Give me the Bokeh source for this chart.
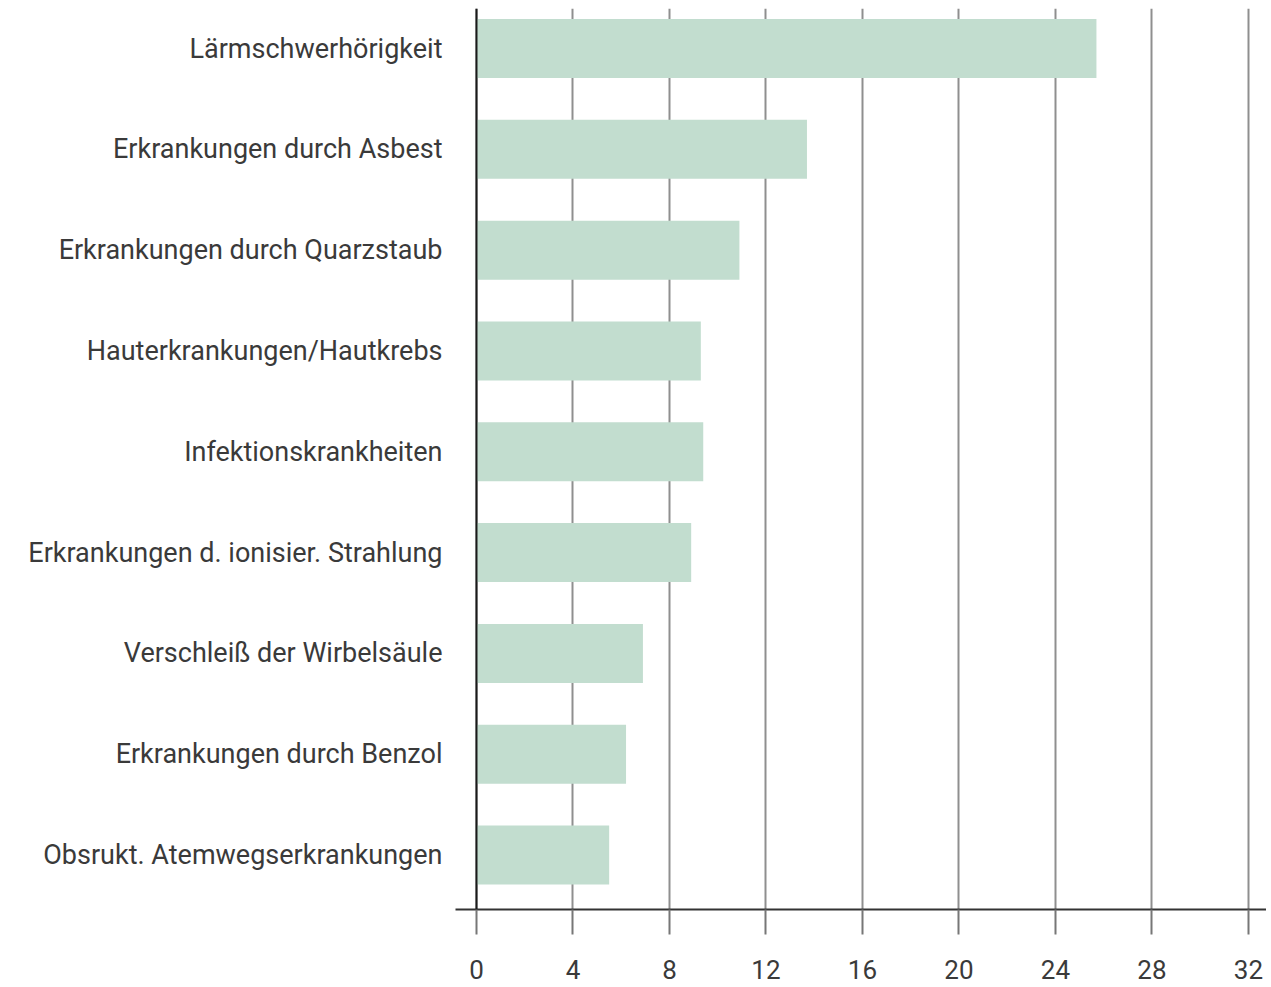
from bokeh.plotting import figure
from bokeh.models import Range1d, FixedTicker, Span, ColumnDataSource
from bokeh.embed import file_html
from bokeh.resources import INLINE

categories = [
    "Lärmschwerhörigkeit",
    "Erkrankungen durch Asbest",
    "Erkrankungen durch Quarzstaub",
    "Hauterkrankungen/Hautkrebs",
    "Infektionskrankheiten",
    "Erkrankungen d. ionisier. Strahlung",
    "Verschleiß der Wirbelsäule",
    "Erkrankungen durch Benzol",
    "Obsrukt. Atemwegserkrankungen",
]
values = [25.7, 13.7, 10.9, 9.3, 9.4, 8.9, 6.9, 6.2, 5.5]
x_ticks = [0, 4, 8, 12, 16, 20, 24, 28, 32]

positions = list(range(len(categories)))
src = ColumnDataSource(dict(y=positions, right=values, name=categories))

FONT = "Roboto"
TEXT = "#3a3a3a"

p = figure(width=1266, height=985, output_backend="svg", toolbar_location=None,
           x_range=Range1d(-0.87, 32.75), y_range=Range1d(8.54, -0.397),
           min_border_left=455, min_border_right=0, min_border_top=8,
           min_border_bottom=76)
p.outline_line_color = None
p.background_fill_color = "white"

p.hbar(y="y", left=0, right="right", height=0.585, source=src,
       fill_color="#c2ddcf", line_color=None)

p.add_layout(Span(location=0, dimension="height", line_color="#1a1a1a", line_width=2))

# x axis
xa = p.xaxis[0]
xa.ticker = FixedTicker(ticks=x_ticks)
xa.axis_line_color = "#333333"
xa.axis_line_width = 2
xa.major_tick_line_color = "#777777"
xa.major_tick_line_width = 2
xa.major_tick_out = 25
xa.major_tick_in = 0
xa.minor_tick_line_color = None
xa.major_label_text_font = FONT
xa.major_label_text_font_size = "26px"
xa.major_label_text_color = TEXT
xa.major_label_standoff = 25

# y axis
ya = p.yaxis[0]
ya.ticker = FixedTicker(ticks=positions)
ya.major_label_overrides = {i: c for i, c in zip(positions, categories)}
ya.axis_line_color = None
ya.major_tick_line_color = None
ya.minor_tick_line_color = None
ya.major_tick_out = 0
ya.major_tick_in = 0
ya.major_label_standoff = 13
ya.major_label_text_font = FONT
ya.major_label_text_font_size = "27px"
ya.major_label_text_color = TEXT

p.xgrid.ticker = FixedTicker(ticks=x_ticks)
p.xgrid.grid_line_color = "#8f8f8f"
p.xgrid.grid_line_width = 2
p.ygrid.grid_line_color = None

open("out.html", "w").write(file_html(p, INLINE))
